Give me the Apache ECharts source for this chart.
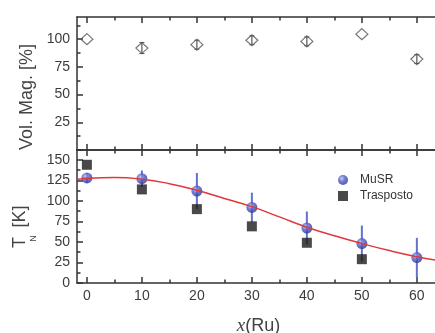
<!DOCTYPE html>
<html>
<head>
<meta charset="utf-8">
<script src="https://cdn.jsdelivr.net/npm/echarts@6/dist/echarts.min.js"></script>
<style>html,body{margin:0;padding:0;background:#fff}#c{width:435px;height:333px}</style>
</head>
<body>
<div id="c"></div>
<script>
// ---- data ----
const xTicks = [0, 10, 20, 30, 40, 50, 60];
const xMinor = [5, 15, 25, 35, 45, 55];
const volMajor = [0, 25, 50, 75, 100];
const volLabels = [25, 50, 75, 100];
const volMinor = [12.5, 37.5, 62.5, 87.5, 112.5];
const tnTicks = [0, 25, 50, 75, 100, 125, 150];
const tnMinor = [12.5, 37.5, 62.5, 87.5, 112.5, 137.5];

const xRu = [0, 10, 20, 30, 40, 50, 60];
const volMag = [100, 92, 95, 99, 98, 104.5, 82];
const volErr = [0, 5, 4, 4, 4, 0, 4];
const musr = [128, 127, 112, 92, 67, 48, 31];
const musrErr = [6, 10, 22, 18, 20, 22, 24];
const traspX = [0, 10, 20, 30, 40, 50];
const trasposto = [144, 114, 90, 69, 49, 29];
const fitX = [-1.8, 0, 5, 10, 15, 20, 25, 30, 35, 40, 45, 50, 55, 60, 63.3];
const fitY = [126, 127.5, 128.5, 126.5, 121, 113, 103, 93, 80.5, 68, 57.5, 48, 39.5, 32, 28];

// ---- build ----
const X_MIN = -1.8, X_MAX = 63.3;
const axisCol = '#333';
const labCol = '#3c3c3c';
const FONT = 'Liberation Sans';

function xAx(grid, pos, vals, len, showLine, labels) {
  return {
    type: 'value', gridIndex: grid, position: pos, min: X_MIN, max: X_MAX,
    axisLine: { show: showLine, onZero: false, lineStyle: { color: axisCol, width: 1.5 } },
    axisTick: { show: true, inside: true, length: len, customValues: vals, lineStyle: { color: axisCol, width: 1.5 } },
    axisLabel: labels ? { show: true, customValues: labels, margin: 6, color: labCol, fontSize: 14, fontFamily: FONT } : { show: false },
    splitLine: { show: false }
  };
}
function yAx(grid, min, max, vals, len, showLine, labels) {
  return {
    type: 'value', gridIndex: grid, position: 'left', min: min, max: max,
    axisLine: { show: showLine, onZero: false, lineStyle: { color: axisCol, width: 1.5 } },
    axisTick: { show: true, inside: true, length: len, customValues: vals, lineStyle: { color: axisCol, width: 1.5 } },
    axisLabel: labels ? { show: true, customValues: labels, margin: 7, color: labCol, fontSize: 14, fontFamily: FONT } : { show: false },
    splitLine: { show: false }
  };
}

const volData = xRu.map((x, i) => [x, volMag[i], volErr[i]]);
const musrData = xRu.map((x, i) => [x, musr[i], musrErr[i]]);
const traspData = traspX.map((x, i) => [x, trasposto[i]]);
const fitData = fitX.map((x, i) => [x, fitY[i]]);

function errRender(color, cap, width) {
  return function (params, api) {
    const x = api.value(0), y = api.value(1), e = api.value(2);
    if (!e) return null;
    const top = api.coord([x, y + e]);
    const bot = api.coord([x, y - e]);
    const children = [{ type: 'line', shape: { x1: top[0], y1: top[1], x2: bot[0], y2: bot[1] }, style: { stroke: color, lineWidth: width } }];
    if (cap > 0) {
      children.push({ type: 'line', shape: { x1: top[0] - cap, y1: top[1], x2: top[0] + cap, y2: top[1] }, style: { stroke: color, lineWidth: 1 } });
      children.push({ type: 'line', shape: { x1: bot[0] - cap, y1: bot[1], x2: bot[0] + cap, y2: bot[1] }, style: { stroke: color, lineWidth: 1 } });
    }
    return { type: 'group', children: children };
  };
}

const sphere = {
  type: 'radial', x: 0.38, y: 0.35, r: 0.65,
  colorStops: [{ offset: 0, color: '#b9bff5' }, { offset: 0.45, color: '#5560c8' }, { offset: 1, color: '#2e3596' }]
};

const option = {
  animation: false,
  backgroundColor: '#fff',
  grid: [
    { left: 77, right: 0, top: 17, height: 133 },
    { left: 77, right: 0, top: 150, bottom: 50 }
  ],
  xAxis: [
    xAx(0, 'bottom', xTicks, 6, true, null),
    xAx(0, 'bottom', xMinor, 3.5, false, null),
    xAx(0, 'top', xTicks, 6, true, null),
    xAx(0, 'top', xMinor, 3.5, false, null),
    xAx(1, 'top', xTicks, 6, true, null),
    xAx(1, 'top', xMinor, 3.5, false, null),
    xAx(1, 'bottom', xTicks, 6, true, xTicks),
    xAx(1, 'bottom', xMinor, 3.5, false, null)
  ],
  yAxis: [
    yAx(0, 0, 120, volMajor, 6, true, volLabels),
    yAx(0, 0, 120, volMinor, 3.5, false, null),
    yAx(1, 0, 162, tnTicks, 6, true, tnTicks),
    yAx(1, 0, 162, tnMinor, 3.5, false, null)
  ],
  legend: {
    data: ['MuSR', { name: 'Trasposto', icon: 'rect' }], orient: 'vertical', left: 333, top: 169,
    itemWidth: 10, itemHeight: 10, itemGap: 4,
    textStyle: { fontSize: 12, color: '#333', fontFamily: FONT, padding: [0, 0, 0, 7] }
  },
  series: [
    { type: 'custom', name: 'volErr', xAxisIndex: 0, yAxisIndex: 0, data: volData, renderItem: errRender('#555', 2.5, 1.2), z: 3 },
    { type: 'scatter', name: 'Vol', xAxisIndex: 0, yAxisIndex: 0, data: volData, symbol: 'diamond', symbolSize: [12, 11],
      itemStyle: { color: 'rgba(255,255,255,0)', borderColor: '#555', borderWidth: 1.2 }, z: 4 },
    { type: 'custom', name: 'musrErr', xAxisIndex: 6, yAxisIndex: 2, data: musrData, renderItem: errRender('#6570cf', 0, 2), z: 2 },
    { type: 'scatter', name: 'Trasposto', xAxisIndex: 6, yAxisIndex: 2, data: traspData, symbol: 'rect', symbolSize: 10,
      itemStyle: { color: '#1c1c1c' }, z: 3 },
    { type: 'scatter', name: 'MuSR', xAxisIndex: 6, yAxisIndex: 2, data: musrData, symbol: 'circle', symbolSize: 11,
      itemStyle: { color: sphere }, z: 4 },
    { type: 'line', name: 'fit', xAxisIndex: 6, yAxisIndex: 2, data: fitData, smooth: true, symbol: 'none',
      lineStyle: { color: '#e0383a', width: 1.5 }, z: 5 }
  ],
  graphic: [
    { type: 'text', x: 27, y: 97, rotation: Math.PI / 2,
      style: { text: 'Vol. Mag. [%]', font: '18px Liberation Sans', fill: '#444', align: 'center', verticalAlign: 'middle' } },
    { type: 'text', x: 20, y: 242.5, rotation: Math.PI / 2,
      style: { text: 'T', font: '18px Liberation Sans', fill: '#444', align: 'center', verticalAlign: 'middle' } },
    { type: 'text', x: 34, y: 238.5, rotation: Math.PI / 2,
      style: { text: 'N', font: '9px Liberation Sans', fill: '#444', align: 'center', verticalAlign: 'middle' } },
    { type: 'text', x: 20.5, y: 216.5, rotation: Math.PI / 2,
      style: { text: '[K]', font: '18px Liberation Sans', fill: '#444', align: 'center', verticalAlign: 'middle' } },
    { type: 'text', x: 258.5, y: 326,
      style: { text: '{i|x}{n|(Ru)}', align: 'center', verticalAlign: 'middle', fill: '#444',
        rich: { i: { font: 'italic 19px Liberation Serif', fill: '#444' }, n: { font: '18px Liberation Sans', fill: '#444' } } } }
  ]
};

const chart = echarts.init(document.getElementById('c'), null, { renderer: 'canvas' });
chart.setOption(option);
</script>
</body>
</html>
